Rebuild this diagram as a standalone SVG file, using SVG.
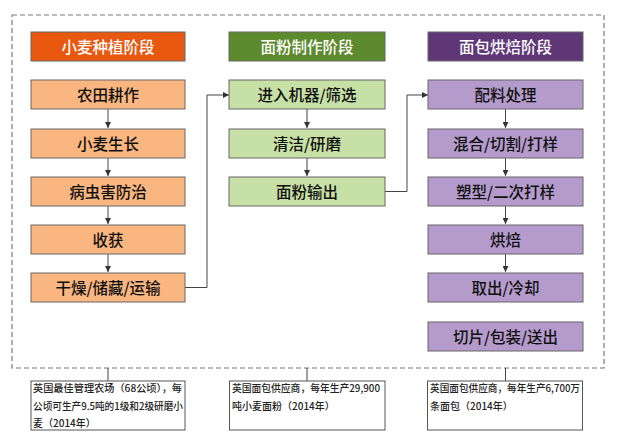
<svg xmlns="http://www.w3.org/2000/svg" width="622" height="448" viewBox="0 0 622 448">
<defs>
<marker id="ah" viewBox="0 0 6 6" refX="6" refY="3" markerWidth="6" markerHeight="6" markerUnits="userSpaceOnUse" orient="auto">
<path d="M0,0 L6,3 L0,6 Z" fill="#333"/>
</marker>
<style>
text{font-family:"Noto Sans CJK SC","Noto Sans",sans-serif;text-anchor:middle;}
.hd{font-size:15.5px;fill:#fff;font-weight:500;}
.bx{font-size:15.5px;fill:#111;font-weight:500;}
.b{stroke:#666;stroke-width:1;}
.o{fill:#FAB680;}
.g{fill:#C6E0A6;}
.p{fill:#B59BCC;}
.c{fill:none;stroke:#444;stroke-width:1;}
.info{fill:#fff;stroke:#555;stroke-width:1;}
.it{font-size:10px;fill:#222;text-anchor:start;font-weight:500;}
</style>
</defs>
<rect width="622" height="448" fill="#fff"/>
<rect x="12" y="15" width="592" height="353" fill="none" stroke="#777" stroke-width="1.2" stroke-dasharray="5,3"/>

<g id="connectors">
<path class="c" d="M108,109 V128" marker-end="url(#ah)"/>
<path class="c" d="M108,158 V176" marker-end="url(#ah)"/>
<path class="c" d="M108,206 V224" marker-end="url(#ah)"/>
<path class="c" d="M108,254 V272" marker-end="url(#ah)"/>
<path class="c" d="M307,109 V128" marker-end="url(#ah)"/>
<path class="c" d="M307,158 V176" marker-end="url(#ah)"/>
<path class="c" d="M505.5,109 V128" marker-end="url(#ah)"/>
<path class="c" d="M505.5,158 V176" marker-end="url(#ah)"/>
<path class="c" d="M505.5,206 V224" marker-end="url(#ah)"/>
<path class="c" d="M505.5,254 V272" marker-end="url(#ah)"/>
<path class="c" d="M185,287.5 H207 V95 H229" marker-end="url(#ah)"/>
<path class="c" d="M385,191.5 H407 V95 H428" marker-end="url(#ah)"/>
<path class="c" d="M108,368 V381"/>
<path class="c" d="M307,368 V381"/>
<path class="c" d="M505.5,368 V381"/>
</g>

<g id="h1"><rect x="31" y="32" width="154" height="29" fill="#E8580F" class="b"/><text class="hd" x="108" y="52.5">小麦种植阶段</text></g>
<g id="h2"><rect x="229" y="32" width="156" height="29" fill="#5C8A2C" class="b"/><text class="hd" x="307" y="52.5">面粉制作阶段</text></g>
<g id="h3"><rect x="428" y="32" width="155" height="29" fill="#5F3777" class="b"/><text class="hd" x="505.5" y="52.5">面包烘焙阶段</text></g>

<g id="a1"><rect x="31" y="80" width="154" height="29" class="b o"/><text class="bx" x="108" y="100.5">农田耕作</text></g>
<g id="a2"><rect x="31" y="129" width="154" height="29" class="b o"/><text class="bx" x="108" y="149.5">小麦生长</text></g>
<g id="a3"><rect x="31" y="177" width="154" height="29" class="b o"/><text class="bx" x="108" y="197.5">病虫害防治</text></g>
<g id="a4"><rect x="31" y="225" width="154" height="29" class="b o"/><text class="bx" x="108" y="245.5">收获</text></g>
<g id="a5"><rect x="31" y="273" width="154" height="29" class="b o"/><text class="bx" x="108" y="293.5">干燥/储藏/运输</text></g>

<g id="b1"><rect x="229" y="80" width="156" height="29" class="b g"/><text class="bx" x="307" y="100.5">进入机器/筛选</text></g>
<g id="b2"><rect x="229" y="129" width="156" height="29" class="b g"/><text class="bx" x="307" y="149.5">清洁/研磨</text></g>
<g id="b3"><rect x="229" y="177" width="156" height="29" class="b g"/><text class="bx" x="307" y="197.5">面粉输出</text></g>

<g id="c1"><rect x="428" y="80" width="155" height="29" class="b p"/><text class="bx" x="505.5" y="100.5">配料处理</text></g>
<g id="c2"><rect x="428" y="129" width="155" height="29" class="b p"/><text class="bx" x="505.5" y="149.5">混合/切割/打样</text></g>
<g id="c3"><rect x="428" y="177" width="155" height="29" class="b p"/><text class="bx" x="505.5" y="197.5">塑型/二次打样</text></g>
<g id="c4"><rect x="428" y="225" width="155" height="29" class="b p"/><text class="bx" x="505.5" y="245.5">烘焙</text></g>
<g id="c5"><rect x="428" y="273" width="155" height="29" class="b p"/><text class="bx" x="505.5" y="293.5">取出/冷却</text></g>
<g id="c6"><rect x="428" y="322" width="155" height="29" class="b p"/><text class="bx" x="505.5" y="342.5">切片/包装/送出</text></g>

<g id="n1"><rect x="31" y="381" width="154" height="49" class="info"/>
<text class="it" x="33" y="392" textLength="149" lengthAdjust="spacingAndGlyphs">英国最佳管理农场（68公顷），每</text>
<text class="it" x="33" y="410" textLength="150" lengthAdjust="spacingAndGlyphs">公顷可生产9.5吨的1级和2级研磨小</text>
<text class="it" x="33" y="427">麦（2014年）</text></g>
<g id="n2"><rect x="229.5" y="381" width="155.5" height="49" class="info"/>
<text class="it" x="232" y="392" textLength="148" lengthAdjust="spacingAndGlyphs">英国面包供应商，每年生产29,900</text>
<text class="it" x="232" y="410">吨小麦面粉（2014年）</text></g>
<g id="n3"><rect x="427.5" y="381" width="155" height="49" class="info"/>
<text class="it" x="430" y="392" textLength="150" lengthAdjust="spacingAndGlyphs">英国面包供应商，每年生产6,700万</text>
<text class="it" x="430" y="410">条面包（2014年）</text></g>
</svg>
